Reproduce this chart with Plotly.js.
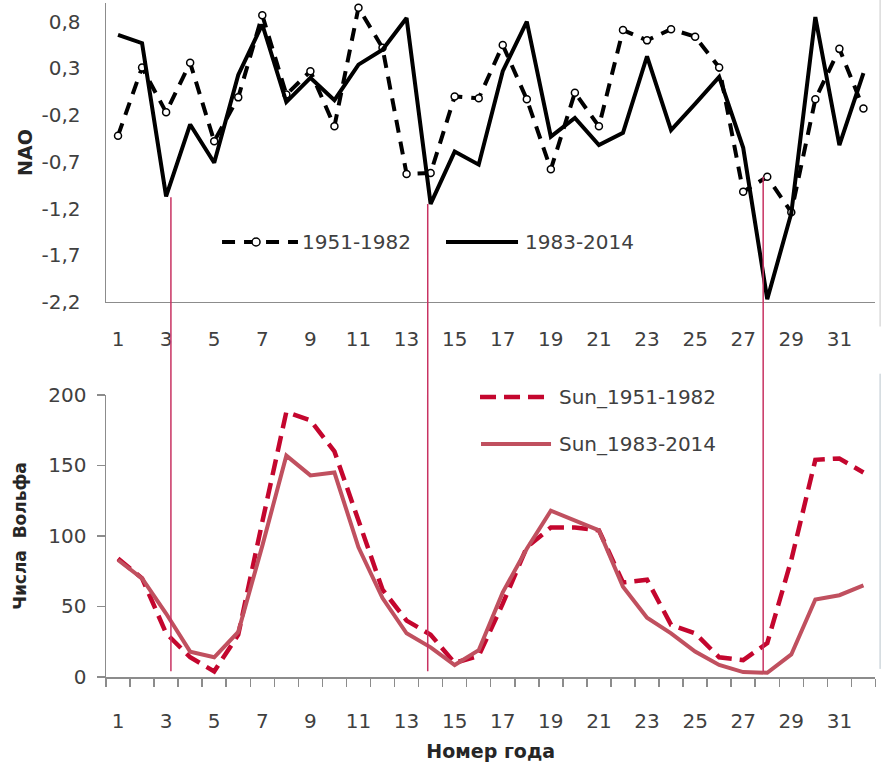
<!DOCTYPE html>
<html>
<head>
<meta charset="utf-8">
<script src="https://cdn.plot.ly/plotly-3.0.1.min.js"></script>
<style>html,body{margin:0;padding:0;background:#fff;}#chart{width:887px;height:764px;}</style>
</head>
<body>
<div id="chart"></div>
<script>
// ---- data ----
var years = [1,2,3,4,5,6,7,8,9,10,11,12,13,14,15,16,17,18,19,20,21,22,23,24,25,26,27,28,29,30,31,32];
var nao1951 = [-0.42,0.31,-0.17,0.36,-0.48,-0.01,0.87,0.02,0.27,-0.32,0.95,0.52,-0.83,-0.82,0.00,-0.02,0.55,-0.03,-0.78,0.04,-0.32,0.71,0.60,0.72,0.64,0.31,-1.02,-0.86,-1.24,-0.03,0.51,-0.13];
var nao1983 = [0.66,0.57,-1.07,-0.30,-0.71,0.23,0.77,-0.06,0.20,-0.04,0.34,0.50,0.84,-1.15,-0.59,-0.73,0.27,0.80,-0.43,-0.23,-0.52,-0.39,0.43,-0.36,-0.08,0.21,-0.55,-2.17,-1.25,0.85,-0.52,0.25];
var sun1951 = [84,70,31,14,4,30,110,188,182,160,111,62,40,30,10,15,52,92,106,106,104,67,69,37,31,14,12,24,83,154,155,145];
var sun1983 = [83,70,45,18,14,32,93,157,143,145,92,56,31,21,8.5,19,60,91,118,111,104,64,42,31,18,8.5,3.5,3,16,55,58,65];
var xTickVals = [1,3,5,7,9,11,13,15,17,19,21,23,25,27,29,31];
var xTickText = ["1","3","5","7","9","11","13","15","17","19","21","23","25","27","29","31"];
var naoTickVals = [0.8,0.3,-0.2,-0.7,-1.2,-1.7,-2.2];
var naoTickText = ["0,8","0,3","-0,2","-0,7","-1,2","-1,7","-2,2"];
var sunTickVals = [0,50,100,150,200];
var sunTickText = ["0","50","100","150","200"];
var names = ["1951-1982","1983-2014","Sun_1951-1982","Sun_1983-2014"];
// red marker lines: year position, NAO value where line starts, Wolf number where it ends
var markX = [3.2, 13.88, 27.83];
var markTopNAO = [-1.08, -1.15, -0.86];
var markBottomSun = 4;

// ---- styles ----
var FONT = "DejaVu Sans";
var tickFont = {family: FONT, size: 20, color: "#404040"};
var axisGray = "#8c8c8c";
var redMark = "#C83262";
var sunDashCol = "#C4062E";
var sunSolidCol = "#C0505F";

var traces = [
  {x: years, y: nao1951, xaxis: "x", yaxis: "y", type: "scatter", mode: "lines+markers", name: names[0],
   line: {color: "#000", width: 4, dash: "13px,9px"},
   marker: {symbol: "circle", size: 7, color: "#fff", line: {color: "#000", width: 1.5}}, showlegend: false},
  {x: years, y: nao1983, xaxis: "x", yaxis: "y", type: "scatter", mode: "lines", name: names[1],
   line: {color: "#000", width: 4}, showlegend: false},
  {x: years, y: sun1951, xaxis: "x2", yaxis: "y2", type: "scatter", mode: "lines", name: names[2],
   line: {color: sunDashCol, width: 4.5, dash: "16px,8px"}, showlegend: false},
  {x: years, y: sun1983, xaxis: "x2", yaxis: "y2", type: "scatter", mode: "lines", name: names[3],
   line: {color: sunSolidCol, width: 4}, showlegend: false}
];

var shapes = [];
for (var i = 0; i < markX.length; i++) {
  shapes.push({type: "line", xref: "x", yref: "y", x0: markX[i], x1: markX[i], y0: markTopNAO[i], y1: -2.2,
               line: {color: redMark, width: 1.5}, layer: "above"});
  shapes.push({type: "line", xref: "x", yref: "paper", x0: markX[i], x1: markX[i], y0: 0.5564, y1: 0.4184,
               line: {color: redMark, width: 1.5}, layer: "above"});
  shapes.push({type: "line", xref: "x2", yref: "y2", x0: markX[i], x1: markX[i], y0: 200, y1: markBottomSun,
               line: {color: redMark, width: 1.5}, layer: "above"});
}
// faint chart-area borders on the right
shapes.push({type: "line", xref: "paper", yref: "paper", x0: 1.004, x1: 1.004, y0: 0.52, y1: 1.01, line: {color: "#c8c8c8", width: 1}});
shapes.push({type: "line", xref: "paper", yref: "paper", x0: 1.004, x1: 1.004, y0: 0.012, y1: 0.45, line: {color: "#b8c4cc", width: 1}});
// custom legend samples (top)
shapes.push({type: "line", xref: "paper", yref: "paper", x0: 0.1505, x1: 0.2490, y0: 0.6454, y1: 0.6454, line: {color: "#000", width: 4, dash: "13px,9px"}});
shapes.push({type: "circle", xref: "paper", yref: "paper", xsizemode: "pixel", ysizemode: "pixel", xanchor: 0.1946, yanchor: 0.6454,
             x0: -4, x1: 4, y0: -4, y1: 4, fillcolor: "#fff", line: {color: "#000", width: 1.5}});
shapes.push({type: "line", xref: "paper", yref: "paper", x0: 0.441, x1: 0.5344, y0: 0.6454, y1: 0.6454, line: {color: "#000", width: 4}});
// custom legend samples (bottom)
shapes.push({type: "line", xref: "paper", yref: "paper", x0: 0.4851, x1: 0.5707, y0: 0.4154, y1: 0.4154, line: {color: sunDashCol, width: 4.5, dash: "16px,8px"}});
shapes.push({type: "line", xref: "paper", yref: "paper", x0: 0.4864, x1: 0.5772, y0: 0.3457, y1: 0.3457, line: {color: sunSolidCol, width: 4}});

var legFont = {family: FONT, size: 20, color: "#404040"};
var annotations = [
  {xref: "paper", yref: "paper", x: 0.2516, y: 0.6454, xanchor: "left", yanchor: "middle", text: names[0], showarrow: false, font: legFont},
  {xref: "paper", yref: "paper", x: 0.5409, y: 0.6454, xanchor: "left", yanchor: "middle", text: names[1], showarrow: false, font: legFont},
  {xref: "paper", yref: "paper", x: 0.585, y: 0.4154, xanchor: "left", yanchor: "middle", text: names[2], showarrow: false, font: legFont},
  {xref: "paper", yref: "paper", x: 0.585, y: 0.3457, xanchor: "left", yanchor: "middle", text: names[3], showarrow: false, font: legFont}
];

var layout = {
  width: 887, height: 764,
  margin: {l: 106, r: 10, t: 3, b: 87},
  paper_bgcolor: "#fff", plot_bgcolor: "#fff",
  showlegend: false,
  xaxis: {domain: [0, 0.998], anchor: "y", range: [0.5, 32.5], tickvals: xTickVals, ticktext: xTickText,
          ticks: "", showgrid: false, zeroline: false, showline: true, linecolor: axisGray, linewidth: 1.5,
          tickfont: tickFont, ticklabelstandoff: 19},
  yaxis: {domain: [0.5564, 1], anchor: "x", range: [-2.2, 1.0], tickvals: naoTickVals, ticktext: naoTickText,
          ticks: "", showgrid: false, zeroline: false, showline: true, linecolor: axisGray, linewidth: 1.5,
          tickfont: tickFont, ticklabelstandoff: 20,
          title: {text: "<b>NAO</b>", font: {family: FONT, size: 19, color: "#262626"}, standoff: 4}},
  xaxis2: {domain: [0, 0.998], anchor: "y2", range: [0.5, 32.5], tickvals: xTickVals, ticktext: xTickText,
           ticks: "", showgrid: false, zeroline: false, showline: true, linecolor: axisGray, linewidth: 1.5,
           tickfont: tickFont, ticklabelstandoff: 25,
           minor: {tick0: 0.5, dtick: 1, ticks: "outside", ticklen: 8, tickcolor: axisGray, tickwidth: 1.5, showgrid: false},
           title: {text: "<b>Номер года</b>", font: {family: FONT, size: 19, color: "#262626"}, standoff: 13}},
  yaxis2: {domain: [0, 0.4184], anchor: "x2", range: [0, 200], tickvals: sunTickVals, ticktext: sunTickText,
           ticks: "outside", ticklen: 8, tickcolor: axisGray, tickwidth: 1.5,
           showgrid: false, zeroline: false, showline: true, linecolor: axisGray, linewidth: 1.5,
           tickfont: tickFont, ticklabelstandoff: 6,
           title: {text: "<b>Числа  Вольфа</b>", font: {family: FONT, size: 17, color: "#262626"}, standoff: 17}},
  shapes: shapes,
  annotations: annotations
};

Plotly.newPlot("chart", traces, layout, {displayModeBar: false, staticPlot: true});
</script>
</body>
</html>
